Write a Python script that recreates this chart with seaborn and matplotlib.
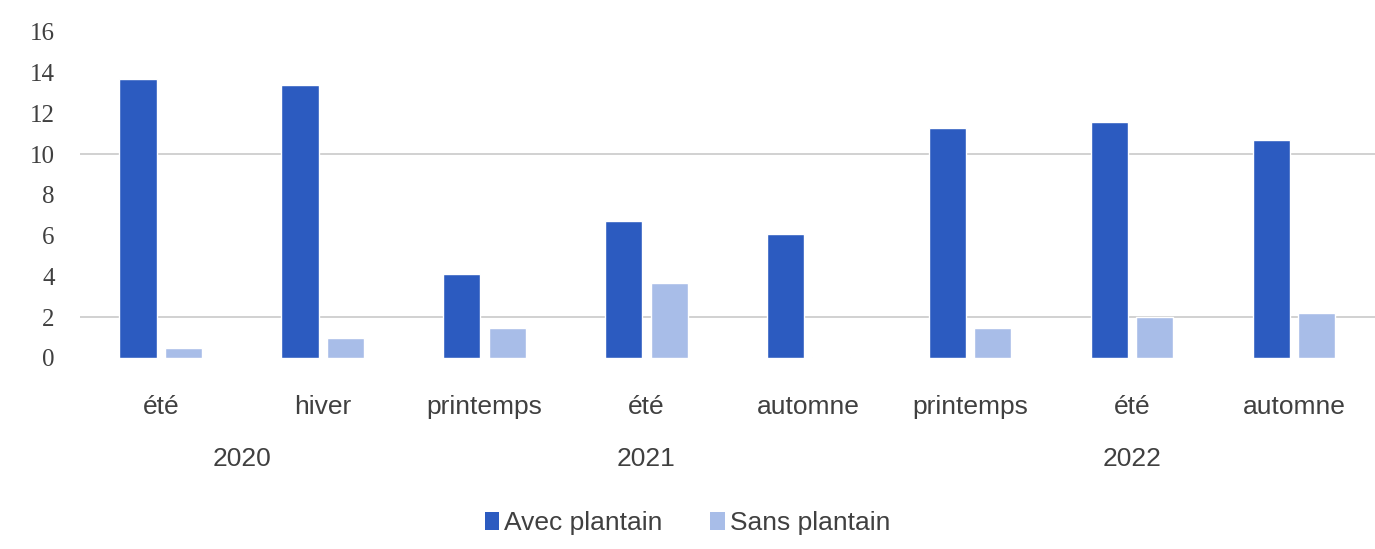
import matplotlib
matplotlib.use("Agg")
import matplotlib.pyplot as plt
import seaborn as sns
import pandas as pd

seasons = ["été", "hiver", "printemps", "été", "automne", "printemps", "été", "automne"]
years = ["2020", "2020", "2021", "2021", "2021", "2022", "2022", "2022"]
avec_plantain = [13.7, 13.4, 4.1, 6.7, 6.1, 11.3, 11.6, 10.7]
sans_plantain = [0.5, 1.0, 1.45, 3.7, 0.05, 1.45, 2.0, 2.2]
series_names = ["Avec plantain", "Sans plantain"]
year_labels = ["2020", "2021", "2022"]

keys = [f"{s} {y} {i}" for i, (s, y) in enumerate(zip(seasons, years))]
df = pd.DataFrame({
    "key": keys * 2,
    "value": avec_plantain + sans_plantain,
    "serie": [series_names[0]] * len(keys) + [series_names[1]] * len(keys),
})

sns.set_theme(style="white")
plt.rcParams["font.family"] = ["Liberation Sans", "DejaVu Sans"]

fig = plt.figure(figsize=(13.75, 5.49), dpi=100)
ax = fig.add_axes([0.058, 0.348, 0.942, 0.594])

palette = {series_names[0]: "#2C5BC0", series_names[1]: "#A8BDE8"}
sns.barplot(data=df, x="key", y="value", hue="serie", order=keys,
            palette=palette, width=0.56, gap=0.18, ax=ax, legend=False,
            saturation=1)

for y in [2, 10]:
    ax.axhline(y, color="#c9c9c9", lw=1.2, zorder=0)

ax.set_ylim(0, 16)
ax.set_xlim(-0.5, len(keys) - 0.5)
ax.set_yticks(range(0, 17, 2))
ax.set_yticklabels([str(v) for v in range(0, 17, 2)],
                   family=["Liberation Serif", "DejaVu Serif"], fontsize=18, color="#404040")
ax.set_xticks(range(len(keys)))
ax.set_xticklabels(seasons, fontsize=19, color="#404040")
ax.tick_params(axis="x", length=0, pad=27)
ax.tick_params(axis="y", length=0, pad=18)
ax.set_xlabel("")
ax.set_ylabel("")
for sp in ax.spines.values():
    sp.set_visible(False)

# year labels
for yl in year_labels:
    idx = [i for i, y in enumerate(years) if y == yl]
    center = (idx[0] + idx[-1]) / 2
    ax.text(center, -0.31, yl, transform=ax.get_xaxis_transform(),
            ha="center", va="center", fontsize=19, color="#404040")

from matplotlib.patches import Patch
handles = [Patch(facecolor=palette[n], edgecolor="none") for n in series_names]
fig.legend(handles, series_names, loc="center", bbox_to_anchor=(0.5, 0.047),
           ncol=2, frameon=False, fontsize=19, handlelength=0.55, handleheight=0.7,
           handletextpad=0.2, columnspacing=1.8, labelcolor="#404040")

fig.savefig("out.png", dpi=100)
